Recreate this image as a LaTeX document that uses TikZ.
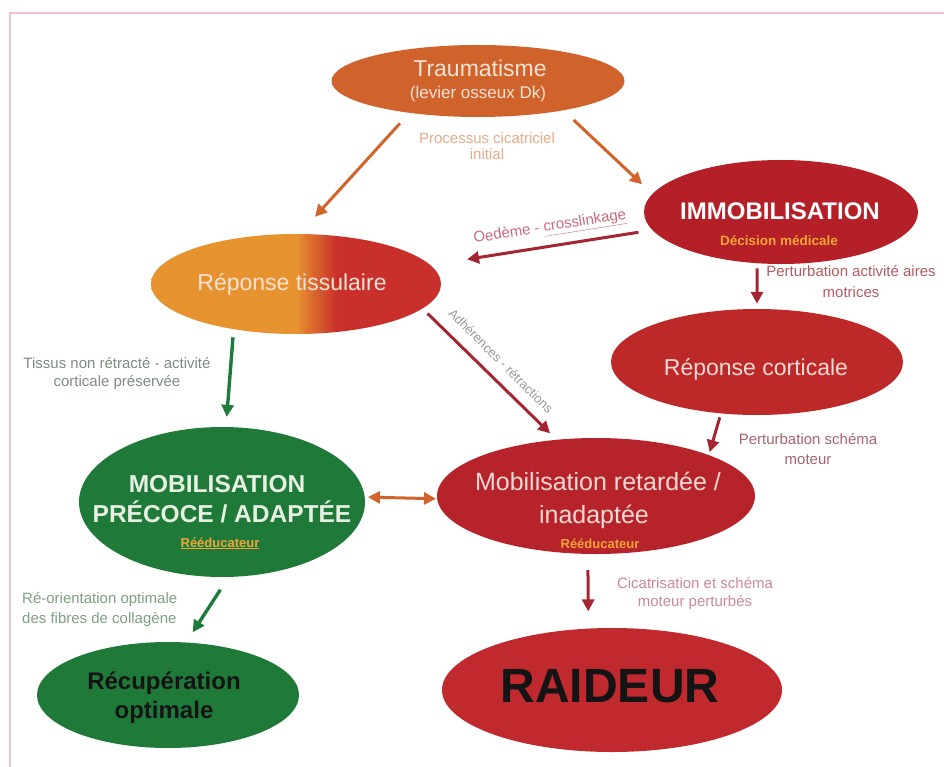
\documentclass[tikz,border=0pt]{standalone}
\usepackage{fontspec}
\setmainfont{Liberation Sans}
\usetikzlibrary{arrows.meta,shapes.geometric}
\definecolor{cTrauma}{HTML}{D0622B}
\definecolor{cImmo}{HTML}{B41F28}
\definecolor{cCort}{HTML}{BD2828}
\definecolor{cRetard}{HTML}{B7232A}
\definecolor{cRaid}{HTML}{C0292D}
\definecolor{cGreen}{HTML}{1F7A3A}
\definecolor{tisOr}{HTML}{E6922F}
\definecolor{tisRed}{HTML}{C9302B}
\definecolor{arrOr}{HTML}{D2632B}
\definecolor{arrRed}{HTML}{A32632}
\definecolor{arrGreen}{HTML}{1E7C3B}
\definecolor{frameC}{HTML}{EBC3C8}
\definecolor{tLight}{HTML}{FBE3D4}
\definecolor{tCort}{HTML}{F7D9D3}
\definecolor{tGreen}{HTML}{E6F1E2}
\definecolor{tOrange}{HTML}{F2A436}
\definecolor{lOr}{HTML}{E6AA88}
\definecolor{lPink}{HTML}{C9697D}
\definecolor{lRed}{HTML}{B35A62}
\definecolor{lGray}{HTML}{9A9A9A}
\definecolor{lRed2}{HTML}{A9646E}
\definecolor{lGrayG}{HTML}{7F8B80}
\definecolor{lGreenG}{HTML}{809E82}
\definecolor{lPink2}{HTML}{C9899A}
\pgfdeclarehorizontalshading{tissushade}{100bp}{color(0bp)=(tisOr); color(50bp)=(tisOr); color(57bp)=(tisRed); color(100bp)=(tisRed)}
\tikzset{
  ell/.style={ellipse, inner sep=0pt, draw=none},
  arrbase/.style={line width=3pt, -{Triangle[length=12pt,width=12pt]}},
  arrO/.style={arrbase, draw=arrOr},
  arrR/.style={arrbase, draw=arrRed},
  arrG/.style={arrbase, draw=arrGreen, line width=3.4pt},
  lbl/.style={align=center, inner sep=0pt, font=\fontsize{15}{18}\selectfont},
  txt/.style={anchor=base, inner sep=0pt},
  frameline/.style={draw=frameC, line width=2.5pt}
}
\begin{document}
\begin{tikzpicture}[x=1pt,y=-1pt]
\useasboundingbox (0,0) rectangle (944,767);
\draw[frameline] (10,767) -- (10,13) -- (944,13);

% ellipses
\node[ell, fill=cTrauma, minimum width=293pt, minimum height=72pt] (trauma) at (478,81) {};
\node[ell, fill=cImmo, minimum width=274pt, minimum height=104pt] (immo) at (781,212) {};
\node[ell, shading=tissushade, minimum width=290pt, minimum height=100pt] (tissu) at (296,284) {};
\node[ell, fill=cCort, minimum width=292pt, minimum height=106pt] (cort) at (757,362) {};
\node[ell, fill=cGreen, minimum width=286pt, minimum height=150pt] (precoce) at (222,502) {};
\node[ell, fill=cRetard, minimum width=318pt, minimum height=116pt] (retard) at (596,496) {};
\node[ell, fill=cGreen, minimum width=262pt, minimum height=106pt] (recup) at (168,695) {};
\node[ell, fill=cRaid, minimum width=340pt, minimum height=124pt] (raideur) at (612,690) {};

% texts inside
\node[txt, text=tLight, font=\fontsize{23}{23}\selectfont] (traumaA) at (480,77) {Traumatisme};
\node[txt, text=tLight, font=\fontsize{17}{17}\selectfont] (traumaB) at (478,99) {(levier osseux Dk)};
\node[txt, text=white, font=\bfseries\fontsize{24}{24}\selectfont] (immoA) at (780,220) {IMMOBILISATION};
\node[txt, text=tOrange, font=\bfseries\fontsize{13.5}{14}\selectfont] (immoB) at (779,246) {Décision médicale};
\node[txt, text=tLight, font=\fontsize{23}{23}\selectfont] (tissuA) at (292,290) {Réponse tissulaire};
\node[txt, text=tCort, font=\fontsize{23}{23}\selectfont] (cortA) at (756,375) {Réponse corticale};
\node[txt, text=tGreen, font=\bfseries\fontsize{24.5}{25}\selectfont] (precA) at (217,492) {MOBILISATION};
\node[txt, text=tGreen, font=\bfseries\fontsize{24.5}{25}\selectfont] (precB) at (222,522) {PRÉCOCE / ADAPTÉE};
\node[txt, text=tOrange, font=\bfseries\fontsize{13}{14}\selectfont] (precC) at (220,547) {\underline{Rééducateur}};
\node[txt, text=tCort, font=\fontsize{25}{25}\selectfont] (retA) at (598,490) {Mobilisation retardée /};
\node[txt, text=tCort, font=\fontsize{25}{25}\selectfont] (retB) at (594,523) {inadaptée};
\node[txt, text=tOrange, font=\bfseries\fontsize{13}{14}\selectfont] (retC) at (600,548) {Rééducateur};
\node[txt, text=black!92, font=\bfseries\fontsize{24}{24}\selectfont] (recA) at (164,689) {Récupération};
\node[txt, text=black!92, font=\bfseries\fontsize{24}{24}\selectfont] (recB) at (164,718) {optimale};
\node[txt, text=black!92, font=\bfseries\fontsize{48}{48}\selectfont] (raidA) at (610,702) {RAIDEUR};

% connector labels
\node[lbl, text=lOr, font=\fontsize{15}{16}\selectfont] (l1) at (487,146) {Processus cicatriciel\\initial};
\node[lbl, text=lPink, rotate=9] (l2) at (550,228) {Oedème - \underline{crosslinkage}};
\node[lbl, text=lRed, font=\fontsize{15}{21}\selectfont] (l3) at (851,282) {Perturbation activité aires\\motrices};
\node[lbl, text=lGray, rotate=-45, font=\fontsize{13}{15}\selectfont] (l4) at (501,361) {Adhérences - rétractions};
\node[lbl, text=lRed2, font=\fontsize{15}{20}\selectfont] (l5) at (808,449) {Perturbation schéma\\moteur};
\node[lbl, text=lGrayG] (l6) at (117,374) {Tissus non rétracté - activité\\corticale préservée};
\node[lbl, text=lGreenG, align=left, anchor=west, font=\fontsize{15}{20}\selectfont] (l7) at (22,610) {Ré-orientation optimale\\des fibres de collagène};
\node[lbl, text=lPink2] (l8) at (695,594) {Cicatrisation et schéma\\moteur perturbés};

% connectors
\draw[arrO, shorten <=14pt, shorten >=23pt] (trauma.205) -- (tissu.86);
\draw[arrO, shorten <=14pt, shorten >=14pt] (trauma.341) -- (immo.172);
\draw[arrR, shorten <=14pt, shorten >=37pt] (immo.188) -- (tissu.8);
\draw[arrR, shorten <=5pt, shorten >=5pt] (immo.245) -- (cort.north);
\draw[arrR, shorten <=7pt, shorten >=9pt] (tissu.349) -- (retard.125);
\draw[arrR, shorten <=4pt, shorten >=3pt] (cort.235) -- (retard.20);
\draw[arrG, shorten <=8pt, shorten >=10pt] (tissu.216) -- (precoce.87);
\draw[line width=3pt, draw=arrOr, {Triangle[length=12pt,width=12pt]}-{Triangle[length=12pt,width=12pt]}, shorten <=3pt, shorten >=1pt] (precoce.2) -- (retard.181);
\draw[arrG, shorten <=15pt, shorten >=12pt] (precoce.275) -- (recup.71);
\draw[arrR, shorten <=16pt, shorten >=17pt] (retard.262) -- (raideur.111);
\end{tikzpicture}
\end{document}
